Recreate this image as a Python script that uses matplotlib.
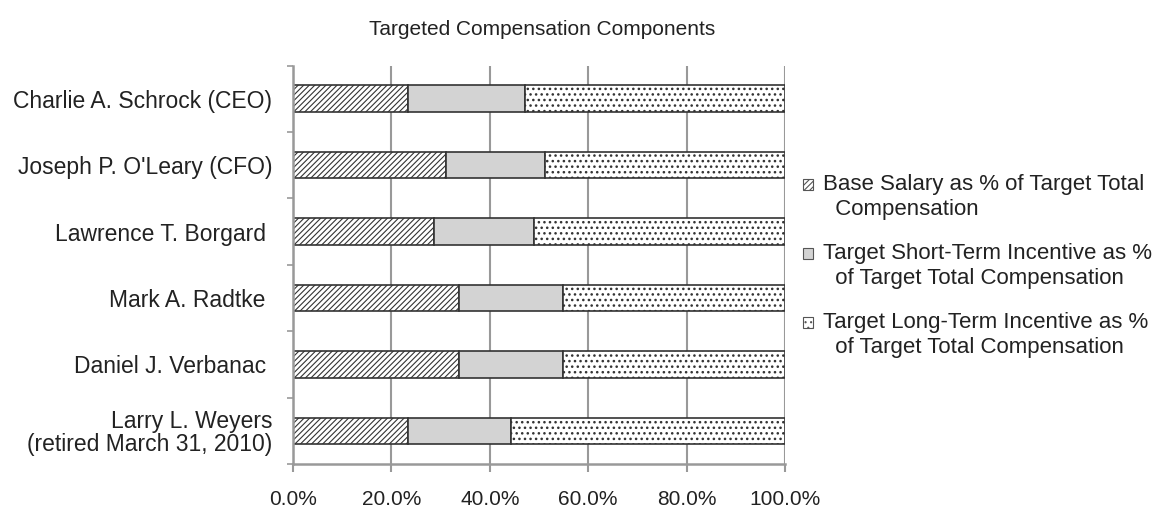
import matplotlib
matplotlib.use("Agg")
import matplotlib.pyplot as plt
from matplotlib.patches import Rectangle
from matplotlib.container import BarContainer
from matplotlib.legend_handler import HandlerPatch, update_from_first_child
from matplotlib.ticker import FixedLocator, FuncFormatter

plt.rcParams['font.family'] = ['Liberation Sans', 'DejaVu Sans']
plt.rcParams['hatch.linewidth'] = 0.8
plt.rcParams['hatch.color'] = '#222222'

executives = [
    "Charlie A. Schrock (CEO)",
    "Joseph P. O'Leary (CFO)",
    "Lawrence T. Borgard ",
    "Mark A. Radtke ",
    "Daniel J. Verbanac ",
    "Larry L. Weyers\n(retired March 31, 2010)",
]
base_salary = [23.4, 31.0, 28.7, 33.8, 33.8, 23.4]
short_term = [23.8, 20.2, 20.3, 21.1, 21.1, 21.0]
long_term = [52.8, 48.8, 51.0, 45.1, 45.1, 55.6]

series_labels = [
    "Base Salary as % of Target Total\n  Compensation",
    "Target Short-Term Incentive as %\n  of Target Total Compensation",
    "Target Long-Term Incentive as %\n  of Target Total Compensation",
]
x_ticks = [0, 20, 40, 60, 80, 100]

text_color = '#222222'
axis_gray = '#999999'
edge_color = '#333333'

fig = plt.figure(figsize=(11.65, 5.09), dpi=100)
ax = fig.add_axes([0.2515, 0.0884, 0.4223, 0.7829])

y = list(range(len(executives)))
bar_h = 0.4
left2 = [b for b in base_salary]
left3 = [b + s for b, s in zip(base_salary, short_term)]

h1 = ax.barh(y, base_salary, height=bar_h, color='white', edgecolor=edge_color,
             linewidth=1.2, hatch='//////', label=series_labels[0])
h2 = ax.barh(y, short_term, left=left2, height=bar_h, color='#d3d3d3',
             edgecolor=edge_color, linewidth=1.2, label=series_labels[1])
with plt.rc_context({'hatch.linewidth': 1.05}):
    h3 = ax.barh(y, long_term, left=left3, height=bar_h, color='white',
                 edgecolor=edge_color, linewidth=1.2, hatch='...', label=series_labels[2])
for bar in h3:
    if hasattr(bar, 'set_hatch_linewidth'):
        bar.set_hatch_linewidth(1.05)

ax.set_xlim(0, 100)
ax.set_ylim(len(executives) - 0.5, -0.5)

ax.xaxis.set_major_locator(FixedLocator(x_ticks))
ax.xaxis.set_major_formatter(FuncFormatter(lambda v, p: f"{v:.1f}%"))
ax.grid(axis='x', color=axis_gray, linewidth=1.5)
ax.set_axisbelow(True)

ax.set_yticks(y)
ax.set_yticklabels(executives, ha='right', multialignment='right', linespacing=1.0)
ax.yaxis.set_minor_locator(FixedLocator([i - 0.5 for i in range(len(executives) + 1)]))
ax.tick_params(axis='y', which='major', length=0, pad=15, labelsize=16.5, labelcolor=text_color)
ax.tick_params(axis='y', which='minor', length=4.5, width=1.2, color=axis_gray)
ax.tick_params(axis='x', which='major', length=5.5, width=1.5, color=axis_gray,
               pad=13.5, labelsize=15, labelcolor=text_color)

for side in ('top', 'right'):
    ax.spines[side].set_visible(False)
for side in ('left', 'bottom'):
    ax.spines[side].set_color(axis_gray)
    ax.spines[side].set_linewidth(1.8)

fig.text(0.4652, 0.943, "Targeted Compensation Components", ha='center', va='center',
         fontsize=15, color=text_color)


def top_line_square(legend, orig_handle, xdescent, ydescent, width, height, fontsize):
    # Small square key placed beside the first line of a two-line label
    side = width
    return Rectangle((-xdescent, -ydescent + 0.56 * fontsize), side, side * 1.1)


leg = fig.legend(handles=[h1, h2, h3], labels=series_labels, loc='center left',
                 bbox_to_anchor=(0.672, 0.478), frameon=False, fontsize=16,
                 handlelength=0.45, handleheight=0.45, handletextpad=0.45,
                 labelspacing=1.02, labelcolor=text_color,
                 handler_map={BarContainer: HandlerPatch(patch_func=top_line_square,
                                                         update_func=update_from_first_child)})
for txt in leg.get_texts():
    txt.set_linespacing(1.27)
for patch in leg.get_patches():
    patch.set_edgecolor('#555555')
    patch.set_linewidth(0.8)

fig.savefig("out.png", dpi=100)
